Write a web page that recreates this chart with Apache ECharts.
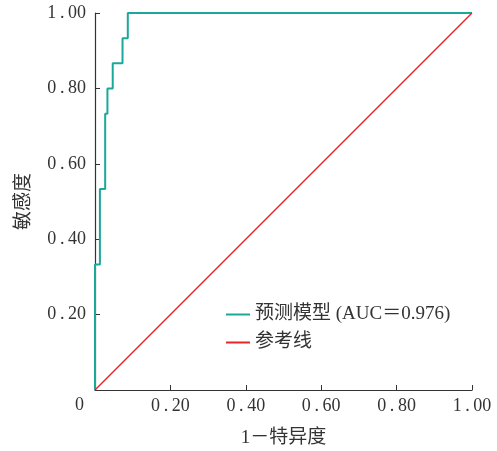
<!DOCTYPE html>
<html>
<head>
<meta charset="utf-8">
<script src="https://cdn.jsdelivr.net/npm/echarts@6/dist/echarts.min.js"></script>
<style>
  html, body { margin: 0; padding: 0; background: #fff; }
  #chart { width: 497px; height: 451px; }
</style>
</head>
<body>
<div id="chart"></div>
<script>
// ROC curve points (1-specificity, sensitivity), step shape
const fprValues = [0, 0, 0.013, 0.013, 0.027, 0.027, 0.033, 0.033, 0.047, 0.047, 0.073, 0.073, 0.087, 0.087, 1.0];
const tprValues = [0, 0.333, 0.333, 0.533, 0.533, 0.733, 0.733, 0.800, 0.800, 0.867, 0.867, 0.933, 0.933, 1.0, 1.0];
const refX = [0, 1];
const refY = [0, 1];
const seriesNames = ['预测模型 (AUC＝0.976)', '参考线'];
const xName = '1－特异度';
const yName = '敏感度';

const chart = echarts.init(document.getElementById('chart'));
const numFont = '"Liberation Serif", "Times New Roman", serif';
const cjkFont = '"Liberation Serif", "Noto Sans CJK SC", serif';
const axisColor = '#333333';

// tick labels are typeset with a little air around the decimal point
function fmt(v) {
    if (v === 0) return '';
    return v.toFixed(2).replace('.', '\u2009.\u2009');
}

chart.setOption({
    animation: false,
    color: ['#1aa89a', '#e8262a'],
    grid: { left: 95, right: 25, top: 13, bottom: 61, outerBoundsMode: 'none' },
    legend: {
        orient: 'vertical',
        left: 221,
        top: 300,
        itemWidth: 24,
        itemHeight: 2,
        itemGap: 9,
        icon: 'rect',
        textStyle: { fontFamily: cjkFont, fontSize: 19, color: '#333' },
        data: seriesNames
    },
    xAxis: {
        type: 'value',
        min: 0,
        max: 1,
        interval: 0.2,
        name: xName,
        nameLocation: 'middle',
        nameGap: 39,
        nameTextStyle: { fontFamily: cjkFont, fontSize: 19, color: '#333' },
        axisLine: { lineStyle: { color: axisColor, width: 1.2 } },
        axisTick: { inside: true, length: 5, lineStyle: { color: axisColor } },
        axisLabel: { formatter: fmt, margin: 7, fontFamily: numFont, fontSize: 18, color: '#333' },
        splitLine: { show: false }
    },
    yAxis: {
        type: 'value',
        min: 0,
        max: 1,
        interval: 0.2,
        name: yName,
        nameLocation: 'middle',
        nameGap: 61,
        nameTextStyle: { fontFamily: cjkFont, fontSize: 19, color: '#333' },
        axisLine: { show: true, lineStyle: { color: axisColor, width: 1.2 } },
        axisTick: { show: true, inside: true, length: 5, lineStyle: { color: axisColor } },
        axisLabel: { formatter: fmt, margin: 9, fontFamily: numFont, fontSize: 18, color: '#333' },
        splitLine: { show: false }
    },
    graphic: [{
        type: 'text',
        left: 75,
        top: 396,
        style: { text: '0', font: '18px ' + numFont, fill: '#333' }
    }],
    series: [
        {
            name: seriesNames[0],
            type: 'line',
            symbol: 'none',
            lineStyle: { width: 2 },
            data: fprValues.map((x, i) => [x, tprValues[i]])
        },
        {
            name: seriesNames[1],
            type: 'line',
            symbol: 'none',
            lineStyle: { width: 1.5 },
            data: refX.map((x, i) => [x, refY[i]])
        }
    ]
});
</script>
</body>
</html>
